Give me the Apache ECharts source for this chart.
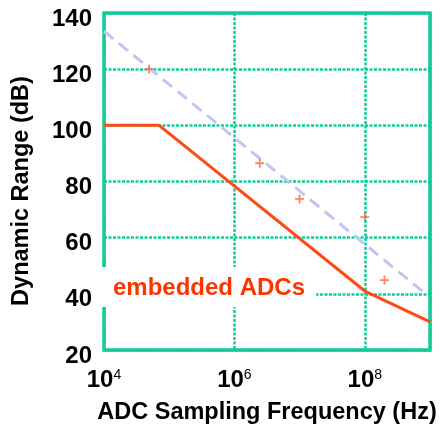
<!DOCTYPE html>
<html><head><meta charset="utf-8">
<script src="https://cdn.jsdelivr.net/npm/echarts@6/dist/echarts.min.js"></script>
<style>html,body{margin:0;padding:0;background:#fff}#c{width:444px;height:430px}</style>
</head><body><div id="c"></div>
<script>
// ---- data ----
const xTickExps = [4, 6, 8];
const yTicks = [20, 40, 60, 80, 100, 120, 140];
const edgeFreq = [1e4, 7e4, 1e8, 1e9];
const edgeDR = [100, 100, 41, 30];
const trendFreq = [1e4, 9e8];
const trendDR = [133.5, 39.6];
const adcFreq = [4.9e4, 2.45e6, 1e7, 1e8, 2e8];
const adcDR = [120, 86.5, 73.8, 67.3, 44.9];
const xTitle = 'ADC Sampling Frequency (Hz)';
const yTitle = 'Dynamic Range (dB)';
const noteText = 'embedded ADCs';

const FONT = '"Liberation Sans", Arial, sans-serif';
const GREEN = '#11cc99';
const zip = (a, b) => a.map((v, i) => [v, b[i]]);

const chart = echarts.init(document.getElementById('c'), null, {renderer: 'canvas'});
chart.setOption({
  animation: false,
  backgroundColor: '#fff',
  grid: {left: 104, right: 14, top: 13, bottom: 78, show: true, borderColor: GREEN, borderWidth: 3.5, backgroundColor: 'transparent'},
  xAxis: {
    type: 'log', logBase: 10, min: 1e4, max: 1e9, interval: 2,
    axisLine: {show: false}, axisTick: {show: false},
    splitLine: {show: true, lineStyle: {color: GREEN, width: 2.5, type: [3, 1.5]}},
    axisLabel: {
      margin: 18, showMaxLabel: false,
      formatter: v => { const e = Math.round(Math.log10(v)); return xTickExps.includes(e) ? '{b|10}{s|' + e + '}' : ''; },
      rich: {
        b: {fontFamily: FONT, fontSize: 24, fontWeight: 'bold', color: '#000', lineHeight: 24},
        s: {fontFamily: FONT, fontSize: 14, color: '#000', verticalAlign: 'top', lineHeight: 24}
      }
    },
    name: xTitle, nameLocation: 'middle', nameGap: 51,
    nameTextStyle: {fontFamily: FONT, fontSize: 23.5, fontWeight: 'bold', color: '#000'}
  },
  yAxis: {
    type: 'value', min: 20, max: 140, interval: 20,
    axisLine: {show: false}, axisTick: {show: false},
    splitLine: {show: true, lineStyle: {color: GREEN, width: 2.5, type: [3, 1.5]}},
    axisLabel: {
      margin: 12, fontFamily: FONT, fontSize: 24, fontWeight: 'bold', color: '#000',
      verticalAlign: 'top', lineHeight: 12,
      formatter: v => yTicks.includes(v) ? String(v) : ''
    }
  },
  series: [
    {type: 'line', data: zip(trendFreq, trendDR), symbol: 'none', z: 3,
     lineStyle: {color: '#c4c4f4', width: 3, type: [12, 7]}},
    {type: 'line', data: zip(edgeFreq, edgeDR), symbol: 'none', z: 4,
     lineStyle: {color: '#ff4a15', width: 3}},
    {type: 'scatter', data: zip(adcFreq, adcDR), z: 5,
     symbol: 'path://M4,0H6V4H10V6H6V10H4V6H0V4H4Z', symbolSize: 9,
     itemStyle: {color: '#ff6633'}}
  ],
  graphic: [
    {type: 'text', z: 50, x: 22, y: 191, rotation: Math.PI / 2,
     style: {text: yTitle, font: 'bold 23.5px ' + FONT, fill: '#000', align: 'center', verticalAlign: 'middle'}},
    {type: 'rect', z: 50, shape: {x: 100, y: 267, width: 216, height: 40}, style: {fill: '#fff'}},
    {type: 'text', z: 51, x: 113, y: 288,
     style: {text: noteText, font: 'bold 24px ' + FONT, fill: '#ff3300', verticalAlign: 'middle', align: 'left'}}
  ]
});
</script></body></html>
